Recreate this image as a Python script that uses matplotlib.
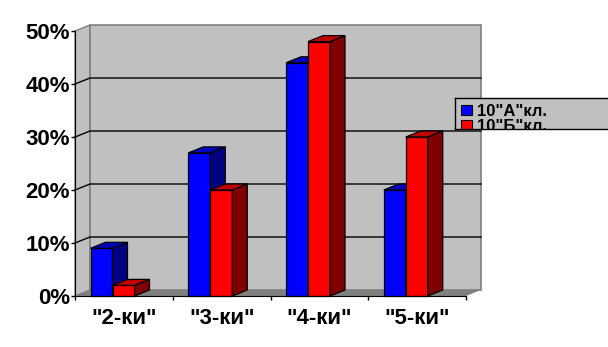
import matplotlib
matplotlib.use("Agg")
import matplotlib.pyplot as plt
from matplotlib.patches import Polygon, Rectangle

# data
categories = ['"2-ки"', '"3-ки"', '"4-ки"', '"5-ки"']
series_names = ['10"А"кл.', '10"Б"кл.']
class_a = [9, 27, 44, 20]
class_b = [2, 20, 48, 30]
y_ticks = [0, 10, 20, 30, 40, 50]

plt.rcParams['font.family'] = ['Liberation Sans', 'DejaVu Sans']
plt.rcParams['font.weight'] = 'bold'

W, H = 608, 347
fig = plt.figure(figsize=(W / 100, H / 100), dpi=100)

# front plane: category 0 at x=75px, 1 category = 97.75px; 0% at y=296px, 1% = 5.3px
px_cat = 97.75
px_pct = 5.3
x0_px, y0_px = 75, 296
xlim = (-0.3, 4.4)
ylim = (-1.0, 52.0)
ax = fig.add_axes([(x0_px + xlim[0] * px_cat) / W,
                   (H - y0_px + ylim[0] * px_pct) / H,
                   (xlim[1] - xlim[0]) * px_cat / W,
                   (ylim[1] - ylim[0]) * px_pct / H])
ax.set_xlim(*xlim)
ax.set_ylim(*ylim)
ax.patch.set_visible(False)

dx = 15 / px_cat   # depth offset
dy = 6 / px_pct
ncat = len(categories)
top = y_ticks[-1]

# walls and floor
ax.add_patch(Polygon([(0, 0), (dx, dy), (dx, top + dy), (0, top)],
                     facecolor='#C0C0C0', edgecolor='#808080', lw=1, zorder=1))
ax.add_patch(Polygon([(dx, dy), (ncat + dx, dy), (ncat + dx, top + dy), (dx, top + dy)],
                     facecolor='#C0C0C0', edgecolor='#808080', lw=1.2, zorder=1))
ax.add_patch(Polygon([(0, 0), (ncat, 0), (ncat + dx, dy), (dx, dy)],
                     facecolor='#808080', edgecolor='none', zorder=1))
for v in y_ticks[1:-1]:
    ax.plot([0, dx, ncat + dx], [v, v + dy, v + dy], color='black', lw=1, zorder=2)


def bar3d(x, w, v, front, side, topc):
    ax.add_patch(Polygon([(x, 0), (x + w, 0), (x + w, v), (x, v)],
                         facecolor=front, edgecolor='black', lw=0.9, zorder=3))
    ax.add_patch(Polygon([(x + w, 0), (x + w + dx, dy), (x + w + dx, v + dy), (x + w, v)],
                         facecolor=side, edgecolor='black', lw=0.9, zorder=3))
    ax.add_patch(Polygon([(x, v), (x + w, v), (x + w + dx, v + dy), (x + dx, v + dy)],
                         facecolor=topc, edgecolor='black', lw=0.9, zorder=3))


bw = 22 / px_cat
off = 15.5 / px_cat
for i in range(ncat):
    bar3d(i + off, bw, class_a[i], '#0000FF', '#000080', '#0000C0')
    bar3d(i + off + bw, bw, class_b[i], '#FF0000', '#800000', '#C00000')

# axes
for s in ['top', 'right']:
    ax.spines[s].set_visible(False)
ax.spines['left'].set_position(('data', 0))
ax.spines['bottom'].set_position(('data', 0))
ax.spines['left'].set_bounds(0, top)
ax.spines['bottom'].set_bounds(0, ncat)
ax.spines['left'].set_zorder(4)
ax.spines['bottom'].set_zorder(4)
ax.set_yticks(y_ticks)
ax.set_yticklabels([f'{v}%' for v in y_ticks], fontsize=16, fontweight='bold')
ax.tick_params(axis='y', direction='out', length=3, width=1, pad=0.5)
ax.set_xticks(range(ncat + 1))
ax.set_xticklabels([])
ax.set_xticks([i + 0.5 for i in range(ncat)], minor=True)
ax.set_xticklabels(categories, minor=True, fontsize=16, fontweight='bold')
ax.tick_params(axis='x', which='major', direction='out', length=3, width=1)
ax.tick_params(axis='x', which='minor', length=0, pad=9)

# legend box (clipped at its bottom like the original)
lg = fig.add_axes([455 / W, (H - 129) / H, 190 / W, 31 / H])
lg.set_xlim(0, 190)
lg.set_ylim(31, 0)
lg.set_facecolor('#C0C0C0')
lg.set_xticks([])
lg.set_yticks([])
for s in lg.spines.values():
    s.set_color('black')
    s.set_linewidth(1)
legend_colors = ['#0000FF', '#FF0000']
for k, name in enumerate(series_names):
    yb = 18 + k * 15
    lg.add_patch(Rectangle((6, yb - 11), 11, 10, facecolor=legend_colors[k],
                           edgecolor='black', lw=0.8, clip_on=True))
    lg.text(22, yb, name, fontsize=12, fontweight='bold', va='baseline',
            ha='left', clip_on=True)

fig.savefig('out.png', dpi=100)
